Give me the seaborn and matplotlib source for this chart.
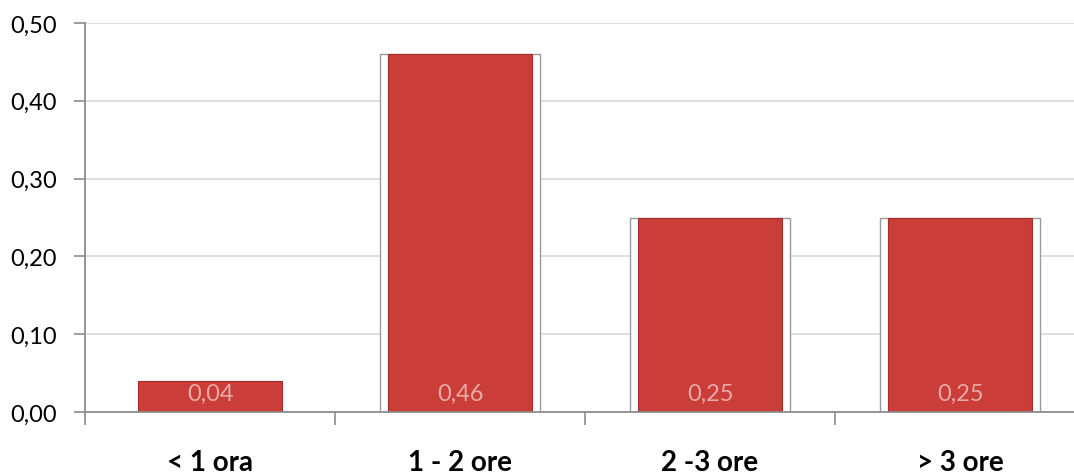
import matplotlib
matplotlib.use("Agg")
import matplotlib.pyplot as plt
import seaborn as sns
import pandas as pd
import numpy as np

categories = ["< 1 ora", "1 - 2 ore", "2 -3 ore", "> 3 ore"]
values = [0.04, 0.46, 0.25, 0.25]
value_labels = ["0,04", "0,46", "0,25", "0,25"]
yticks = [0.0, 0.1, 0.2, 0.3, 0.4, 0.5]
ytick_labels = ["0,00", "0,10", "0,20", "0,30", "0,40", "0,50"]

sns.set_theme(style="white")
plt.rcParams['font.family'] = ['Lato', 'DejaVu Sans']

df = pd.DataFrame({"cat": categories, "val": values})

fig = plt.figure(figsize=(10.74, 4.77), dpi=100)
ax = fig.add_axes([85/1074, 64/477, 1000/1074, 389/477])

# outer frame bars (white with grey outline) for bars 2-4
sns.barplot(data=df, x="cat", y="val", order=categories, ax=ax, width=0.64,
            color="white", edgecolor="#9a9a9a", linewidth=1.0, zorder=2)
frame = list(ax.patches)
frame[0].set_visible(False)
# inner red bars
sns.barplot(data=df, x="cat", y="val", order=categories, ax=ax, width=0.576,
            color="#CB3D38", saturation=1, edgecolor="#A52E2A", linewidth=0.8, zorder=3)

for i, (v, lab) in enumerate(zip(values, value_labels)):
    ax.text(i, 0.024, lab, ha="center", va="center", color="#E9AAA6",
            fontsize=17, zorder=5)

ax.set_xlim(-0.5, 3.5)
ax.set_ylim(0, 0.5)
ax.set_yticks(yticks)
ax.set_yticklabels(ytick_labels, fontsize=17, color="black")
ax.set_xticks(range(len(categories)))
ax.set_xticklabels(categories, fontsize=20, fontweight="bold", color="black")
ax.set_xticks(np.arange(-0.5, 4.0, 1.0), minor=True)
ax.tick_params(axis="x", which="major", length=0, pad=27)
ax.tick_params(axis="x", which="minor", length=9, width=1.2, color="#8c8c8c", direction="out", bottom=True)
ax.tick_params(axis="y", length=8, width=1.2, color="#8c8c8c", direction="out", left=True, pad=12)
ax.set_xlabel("")
ax.set_ylabel("")

ax.yaxis.grid(True, color="#d9d9d9", linewidth=1.2, zorder=0)
ax.set_axisbelow(True)
for s in ["top", "right"]:
    ax.spines[s].set_visible(False)
for s in ["left", "bottom"]:
    ax.spines[s].set_color("#8c8c8c")
    ax.spines[s].set_linewidth(1.3)
ax.spines["bottom"].set_zorder(6)

fig.savefig("out.png", dpi=100)
